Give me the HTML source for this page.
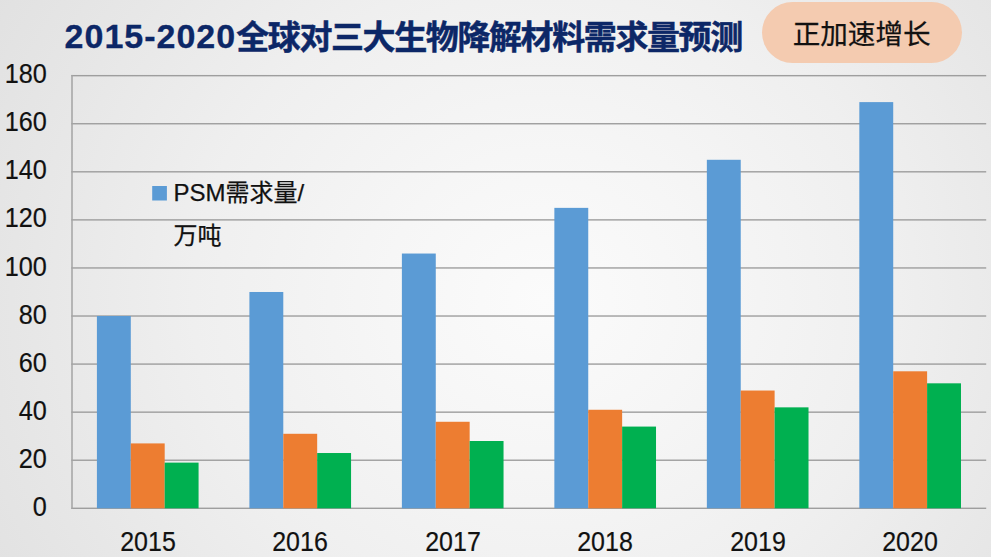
<!DOCTYPE html>
<html lang="zh-CN">
<head>
<meta charset="utf-8">
<title>2015-2020全球对三大生物降解材料需求量预测</title>
<style>
html,body{margin:0;padding:0;}
body{width:991px;height:557px;overflow:hidden;position:relative;
  font-family:"Liberation Sans","Noto Sans CJK SC",sans-serif;
  background:#ebebeb;}
#bg{position:absolute;left:0;top:0;width:991px;height:557px;
  background:radial-gradient(ellipse 640px 600px at 545px 300px, #fbfbfb 0%, #f6f6f6 25%, #efefef 55%, #e7e7e7 80%, #e1e1e1 100%);}
svg{position:absolute;left:0;top:0;}
.title{position:absolute;left:64.6px;top:12px;height:50px;line-height:50px;white-space:nowrap;
  font-weight:bold;color:#0c2767;font-size:33px;letter-spacing:-1.4px;-webkit-text-stroke:0.5px #0c2767;}
.title .n{font-size:34px;letter-spacing:1px;position:relative;top:-1px;-webkit-text-stroke:0.3px #0c2767;}
.pill{position:absolute;left:761.5px;top:2.3px;width:200.3px;height:61.2px;border-radius:31px;background:#f4cbb0;
  color:#111;font-size:27.6px;line-height:66px;text-align:center;-webkit-text-stroke:0.25px #111;}
.yl{position:absolute;left:0;width:46.9px;text-align:right;font-size:27px;line-height:26px;height:26px;color:#111;-webkit-text-stroke:0.2px #111;transform:scaleX(0.935);transform-origin:100% 50%;}
.xl{position:absolute;top:527.8px;width:100px;text-align:center;font-size:27px;line-height:28px;color:#111;-webkit-text-stroke:0.2px #111;transform:scaleX(0.925);transform-origin:50% 50%;}
.leg{position:absolute;left:173.5px;font-size:24px;line-height:30px;color:#111;white-space:nowrap;-webkit-text-stroke:0.25px #111;}
</style>
</head>
<body>
<div id="bg"></div>

<svg width="991" height="557" viewBox="0 0 991 557">
<rect x="71.3" y="507.60" width="914.9" height="1.4" fill="#9e9e9e"/>
<rect x="71.3" y="459.53" width="914.9" height="1.4" fill="#9e9e9e"/>
<rect x="71.3" y="411.46" width="914.9" height="1.4" fill="#9e9e9e"/>
<rect x="71.3" y="363.39" width="914.9" height="1.4" fill="#9e9e9e"/>
<rect x="71.3" y="315.32" width="914.9" height="1.4" fill="#9e9e9e"/>
<rect x="71.3" y="267.25" width="914.9" height="1.4" fill="#9e9e9e"/>
<rect x="71.3" y="219.18" width="914.9" height="1.4" fill="#9e9e9e"/>
<rect x="71.3" y="171.11" width="914.9" height="1.4" fill="#9e9e9e"/>
<rect x="71.3" y="123.04" width="914.9" height="1.4" fill="#9e9e9e"/>
<rect x="71.3" y="74.97" width="914.9" height="1.4" fill="#9e9e9e"/>
<rect x="71.25" y="74.97" width="1.5" height="434.03" fill="#a4a4a4"/>
<rect x="96.91" y="316.02" width="33.89" height="192.28" fill="#5B9BD5"/>
<rect x="130.80" y="443.41" width="33.89" height="64.89" fill="#ED7D31"/>
<rect x="164.68" y="462.63" width="33.89" height="45.67" fill="#00B050"/>
<rect x="249.40" y="291.99" width="33.89" height="216.32" fill="#5B9BD5"/>
<rect x="283.28" y="433.79" width="33.89" height="74.51" fill="#ED7D31"/>
<rect x="317.17" y="453.02" width="33.89" height="55.28" fill="#00B050"/>
<rect x="401.88" y="253.53" width="33.89" height="254.77" fill="#5B9BD5"/>
<rect x="435.77" y="421.77" width="33.89" height="86.53" fill="#ED7D31"/>
<rect x="469.65" y="441.00" width="33.89" height="67.30" fill="#00B050"/>
<rect x="554.36" y="207.86" width="33.89" height="300.44" fill="#5B9BD5"/>
<rect x="588.25" y="409.76" width="33.89" height="98.54" fill="#ED7D31"/>
<rect x="622.13" y="426.58" width="33.89" height="81.72" fill="#00B050"/>
<rect x="706.85" y="159.79" width="33.89" height="348.51" fill="#5B9BD5"/>
<rect x="740.73" y="390.53" width="33.89" height="117.77" fill="#ED7D31"/>
<rect x="774.62" y="407.35" width="33.89" height="100.95" fill="#00B050"/>
<rect x="859.33" y="102.11" width="33.89" height="406.19" fill="#5B9BD5"/>
<rect x="893.22" y="371.30" width="33.89" height="137.00" fill="#ED7D31"/>
<rect x="927.10" y="383.32" width="33.89" height="124.98" fill="#00B050"/>
<rect x="152.2" y="186" width="14.7" height="14.5" fill="#5B9BD5"/>
</svg>
<div class="title"><span class="n">2015-2020</span>全球对三大生物降解材料需求量预测</div>
<div class="pill">正加速增长</div>
<div class="yl" style="top:493.8px">0</div>
<div class="yl" style="top:445.7px">20</div>
<div class="yl" style="top:397.7px">40</div>
<div class="yl" style="top:349.6px">60</div>
<div class="yl" style="top:301.5px">80</div>
<div class="yl" style="top:253.5px">100</div>
<div class="yl" style="top:205.4px">120</div>
<div class="yl" style="top:157.3px">140</div>
<div class="yl" style="top:109.2px">160</div>
<div class="yl" style="top:61.2px">180</div>
<div class="xl" style="left:97.7px">2015</div>
<div class="xl" style="left:250.2px">2016</div>
<div class="xl" style="left:402.7px">2017</div>
<div class="xl" style="left:555.2px">2018</div>
<div class="xl" style="left:707.7px">2019</div>
<div class="xl" style="left:860.2px">2020</div>
<div class="leg" style="top:178px">PSM需求量/</div>
<div class="leg" style="top:220.5px">万吨</div>
</body>
</html>
